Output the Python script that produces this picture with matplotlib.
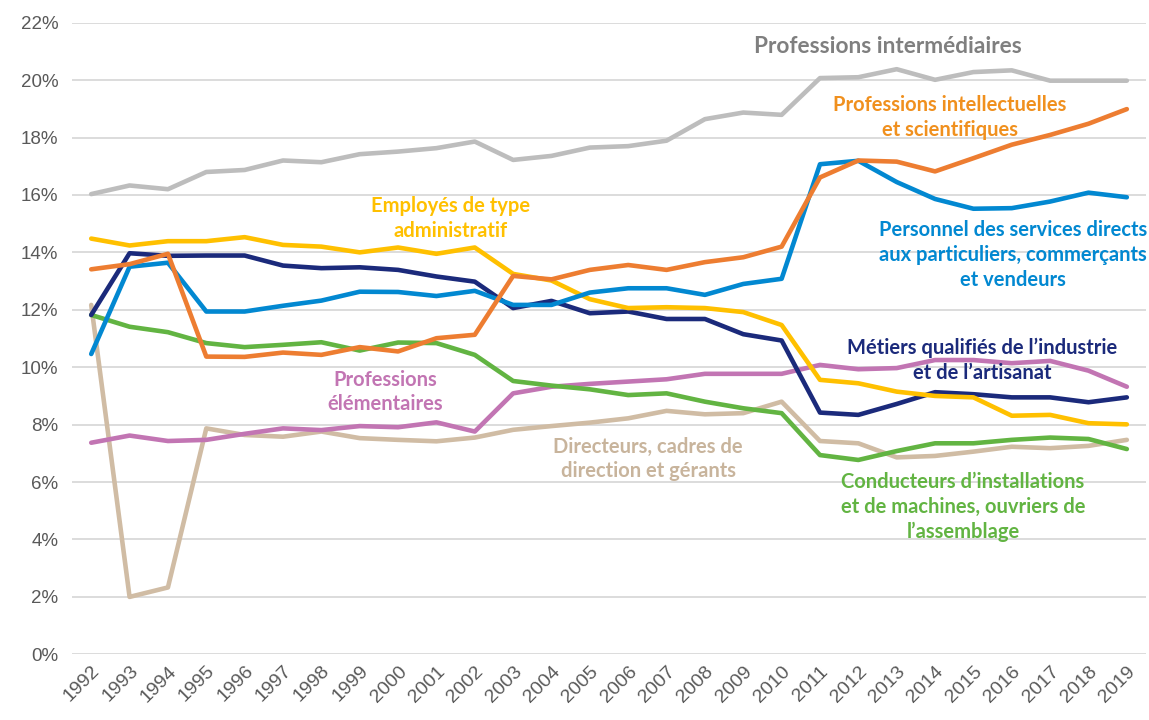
import matplotlib
import matplotlib.pyplot as plt
from matplotlib.ticker import FuncFormatter

matplotlib.use('agg')

years = [str(y) for y in range(1992, 2020)]

# part des emplois (%) par catégorie
intermediaires = [16.03, 16.33, 16.20, 16.80, 16.87, 17.20, 17.14, 17.42, 17.51, 17.63,
                  17.86, 17.22, 17.36, 17.65, 17.70, 17.89, 18.64, 18.87, 18.79, 20.07,
                  20.10, 20.38, 20.01, 20.28, 20.34, 19.98, 19.98, 19.98]
intellectuelles = [13.41, 13.59, 13.95, 10.37, 10.36, 10.51, 10.43, 10.70, 10.55, 11.01,
                   11.13, 13.18, 13.06, 13.39, 13.56, 13.39, 13.66, 13.83, 14.20, 16.61,
                   17.20, 17.16, 16.82, 17.28, 17.75, 18.09, 18.48, 18.99]
services = [10.46, 13.50, 13.64, 11.94, 11.94, 12.14, 12.32, 12.63, 12.62, 12.48,
            12.66, 12.17, 12.17, 12.60, 12.75, 12.75, 12.52, 12.90, 13.08, 17.07,
            17.19, 16.45, 15.86, 15.52, 15.54, 15.77, 16.08, 15.92]
employes = [14.48, 14.24, 14.39, 14.39, 14.53, 14.26, 14.20, 14.00, 14.17, 13.95,
            14.17, 13.25, 13.02, 12.37, 12.06, 12.09, 12.06, 11.92, 11.47, 9.56,
            9.44, 9.15, 9.00, 8.95, 8.31, 8.34, 8.05, 8.01]
metiers = [11.82, 13.97, 13.88, 13.89, 13.89, 13.54, 13.45, 13.48, 13.39, 13.16,
           12.98, 12.06, 12.31, 11.88, 11.94, 11.68, 11.68, 11.15, 10.93, 8.42,
           8.34, 8.72, 9.13, 9.06, 8.95, 8.95, 8.78, 8.95]
conducteurs = [11.82, 11.41, 11.22, 10.84, 10.70, 10.78, 10.87, 10.58, 10.86, 10.84,
               10.43, 9.52, 9.36, 9.23, 9.03, 9.09, 8.80, 8.57, 8.40, 6.94,
               6.77, 7.08, 7.35, 7.35, 7.47, 7.55, 7.50, 7.15]
elementaires = [7.37, 7.62, 7.43, 7.47, 7.68, 7.87, 7.81, 7.95, 7.91, 8.08,
                7.76, 9.09, 9.32, 9.42, 9.50, 9.58, 9.77, 9.77, 9.77, 10.08,
                9.93, 9.97, 10.25, 10.25, 10.14, 10.22, 9.88, 9.32]
directeurs = [12.17, 2.00, 2.33, 7.87, 7.64, 7.58, 7.76, 7.53, 7.47, 7.42,
              7.55, 7.82, 7.95, 8.07, 8.22, 8.48, 8.36, 8.40, 8.80, 7.43,
              7.35, 6.86, 6.91, 7.06, 7.23, 7.18, 7.26, 7.47]

# (serie, couleur ligne, couleur texte, texte, x, y, taille) -- x en index d'annee
series = [
    (directeurs, '#D0BCA4', '#C8B49C', 'Directeurs, cadres de\ndirection et gérants', 14.52, 6.8, 14.5),
    (elementaires, '#C275B3', '#C275B3', 'Professions\nélémentaires', 7.66, 9.14, 14.5),
    (conducteurs, '#62B442', '#62B442', "Conducteurs d\u2019installations\net de machines, ouvriers de\nl\u2019assemblage", 22.73, 5.13, 14.5),
    (metiers, '#1B2A7B', '#1B2A7B', "Métiers qualifiés de l\u2019industrie\net de l\u2019artisanat", 23.22, 10.25, 14.5),
    (employes, '#FFC000', '#FFC000', 'Employés de type\nadministratif', 9.36, 15.17, 14.5),
    (services, '#0288D1', '#0288D1', 'Personnel des services directs\naux particuliers, commerçants\net vendeurs', 24.03, 13.91, 14.5),
    (intellectuelles, '#ED7D31', '#F0901E', 'Professions intellectuelles\net scientifiques', 22.39, 18.7, 14.5),
    (intermediaires, '#BDBDBD', '#7F7F7F', 'Professions intermédiaires', 20.77, 21.16, 16.3),
]

fig = plt.figure(figsize=(11.49, 7.2), dpi=100)
ax = fig.add_axes([0.0627, 0.0912, 0.9347, 0.8773])

x = list(range(len(years)))
for vals, col, tcol, label, lx, ly, fs in series:
    ax.plot(x, vals, color=col, linewidth=3.3, solid_capstyle='round', zorder=3)
    ax.text(lx, ly, label, color=tcol, fontsize=fs, fontweight='bold',
            family=['Lato', 'DejaVu Sans'], ha='center', va='center',
            linespacing=1.3, zorder=4)

ax.set_xlim(-0.5, len(years) - 0.5)
ax.set_ylim(0, 22)
ax.set_yticks(range(0, 23, 2))
ax.yaxis.set_major_formatter(FuncFormatter(lambda v, p: f"{int(v)}%"))
ax.set_xticks(x)
ax.set_xticklabels(years, rotation=45, ha='right', rotation_mode='anchor')
ax.grid(axis='y', color='#D9D9D9', linewidth=1.3)
ax.set_axisbelow(True)
for s in ax.spines.values():
    s.set_visible(False)
ax.tick_params(length=0, labelsize=13.5, labelcolor='#595959')
ax.tick_params(axis='x', labelsize=14, pad=6)
ax.tick_params(axis='y', pad=10)
for t in ax.get_xticklabels() + ax.get_yticklabels():
    t.set_family(['Liberation Sans', 'DejaVu Sans'])

fig.savefig('out.png', dpi=100)
